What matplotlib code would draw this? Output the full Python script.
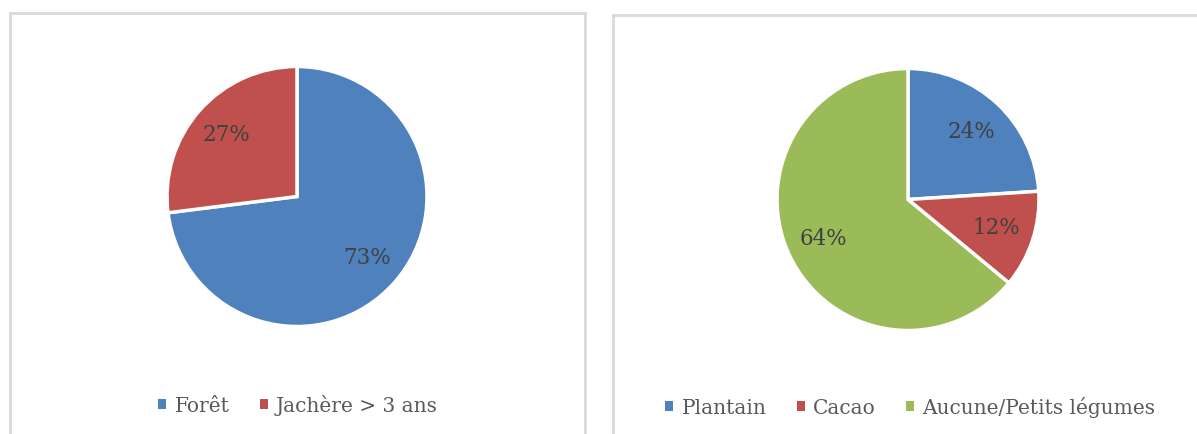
import matplotlib
matplotlib.use("Agg")
import matplotlib.pyplot as plt
from matplotlib.patches import Rectangle, Patch

# Data
left_labels = ["Forêt", "Jachère > 3 ans"]
left_values = [73, 27]
right_labels = ["Plantain", "Cacao", "Aucune/Petits légumes"]
right_values = [24, 12, 64]

BLUE, RED, GREEN = "#4F81BD", "#C0504D", "#9BBB59"
left_colors = [BLUE, RED]
right_colors = [BLUE, RED, GREEN]

W, H = 1197, 434
plt.rcParams['font.family'] = ['DejaVu Serif']
fig = plt.figure(figsize=(W / 100, H / 100), dpi=100)


def px_axes(cx, cy, r):
    return fig.add_axes([(cx - r) / W, 1 - (cy + r) / H, 2 * r / W, 2 * r / H])


def frame(x0, y0, x1, y1):
    fig.patches.append(Rectangle((x0 / W, 1 - y1 / H), (x1 - x0) / W, (y1 - y0) / H,
                                 transform=fig.transFigure, fill=False,
                                 edgecolor="#D9D9D9", linewidth=2.0))


frame(10, 13, 585, 460)
frame(613, 15, 1215, 460)


def draw_pie(cx, cy, r, values, colors, pctd):
    ax = px_axes(cx, cy, r)
    ax.pie(values, colors=colors, startangle=90, counterclock=False,
           autopct='%1.0f%%', pctdistance=pctd, radius=1.0,
           wedgeprops=dict(edgecolor="white", linewidth=2.5),
           textprops=dict(fontsize=15.5, color="#404040"))
    ax.set_xlim(-1, 1)
    ax.set_ylim(-1, 1)
    ax.set_aspect('equal')
    return ax


draw_pie(297, 196.5, 130, left_values, left_colors, 0.72)
draw_pie(908, 199.5, 131, right_values, right_colors, 0.71)

# Legends
lh_left = [Patch(facecolor=c, edgecolor='none') for c in left_colors]
fig.legend(lh_left, left_labels, loc='center', bbox_to_anchor=(298 / W, 1 - 405 / H),
           ncol=2, frameon=False, fontsize=14.5, labelcolor="#595959",
           handlelength=0.4, handleheight=0.4, handletextpad=0.4, columnspacing=1.5)
lh_right = [Patch(facecolor=c, edgecolor='none') for c in right_colors]
fig.legend(lh_right, right_labels, loc='center', bbox_to_anchor=(910 / W, 1 - 407 / H),
           ncol=3, frameon=False, fontsize=14.5, labelcolor="#595959",
           handlelength=0.4, handleheight=0.4, handletextpad=0.4, columnspacing=1.5)

fig.savefig("out.png", dpi=100)
